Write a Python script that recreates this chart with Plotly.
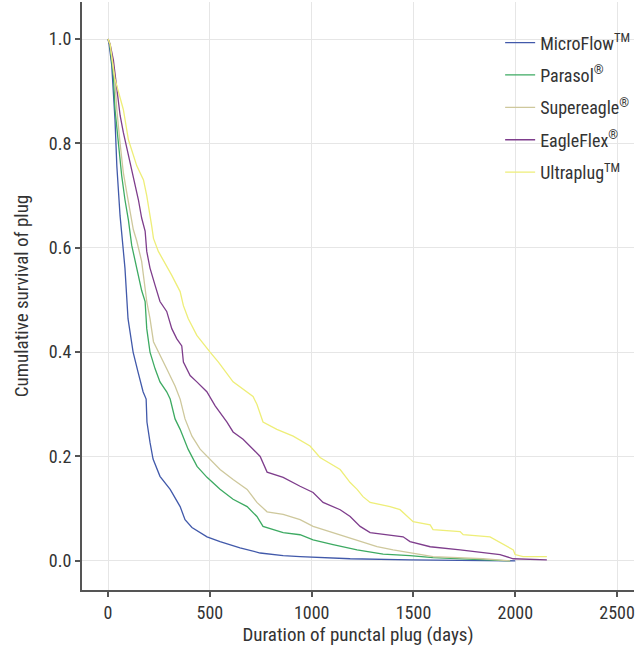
import plotly.graph_objects as go

# Kaplan-Meier curves (days, cumulative survival)
micro_t = [0, 5, 18, 26, 34, 43, 51, 59, 67, 83, 98, 123, 147, 172, 187, 191, 206, 221, 255, 305, 354, 378, 412, 486, 550, 648, 747, 860, 943, 1189, 1483, 1800, 2000]
micro_s = [1.0, 0.99, 0.95, 0.904, 0.846, 0.757, 0.705, 0.661, 0.628, 0.561, 0.464, 0.40, 0.362, 0.324, 0.31, 0.266, 0.227, 0.195, 0.162, 0.137, 0.104, 0.079, 0.064, 0.046, 0.037, 0.025, 0.015, 0.01, 0.008, 0.004, 0.002, 0.001, 0.0]

parasol_t = [0, 8, 26, 34, 51, 67, 83, 100, 116, 141, 165, 182, 190, 206, 231, 255, 288, 305, 329, 354, 393, 437, 486, 550, 614, 683, 731, 761, 860, 943, 1007, 1105, 1223, 1351, 1483, 1596, 1842, 1975]
parasol_s = [1.0, 0.99, 0.93, 0.865, 0.80, 0.738, 0.692, 0.653, 0.605, 0.561, 0.518, 0.497, 0.445, 0.40, 0.368, 0.343, 0.324, 0.31, 0.272, 0.252, 0.214, 0.181, 0.16, 0.137, 0.118, 0.104, 0.085, 0.066, 0.054, 0.05, 0.04, 0.031, 0.021, 0.013, 0.01, 0.006, 0.003, 0.0]

super_t = [0, 10, 34, 43, 59, 75, 92, 108, 124, 141, 165, 190, 206, 223, 255, 288, 329, 354, 378, 412, 452, 501, 550, 614, 683, 731, 781, 860, 943, 1007, 1105, 1223, 1321, 1400, 1483, 1596, 1842, 1975]
super_s = [1.0, 0.99, 0.917, 0.865, 0.80, 0.744, 0.705, 0.667, 0.635, 0.613, 0.574, 0.497, 0.464, 0.42, 0.393, 0.368, 0.335, 0.31, 0.272, 0.239, 0.214, 0.195, 0.175, 0.156, 0.137, 0.112, 0.094, 0.089, 0.079, 0.066, 0.054, 0.04, 0.027, 0.021, 0.015, 0.008, 0.004, 0.0]

eagle_t = [0, 10, 26, 43, 59, 75, 100, 124, 149, 165, 182, 190, 206, 231, 255, 288, 313, 337, 362, 370, 403, 436, 485, 526, 584, 614, 663, 712, 747, 781, 860, 943, 1007, 1056, 1140, 1189, 1238, 1287, 1385, 1449, 1483, 1582, 1729, 1925, 1990, 2155]
eagle_s = [1.0, 0.99, 0.96, 0.904, 0.854, 0.821, 0.776, 0.738, 0.692, 0.657, 0.632, 0.593, 0.561, 0.528, 0.497, 0.478, 0.445, 0.426, 0.412, 0.381, 0.355, 0.343, 0.324, 0.297, 0.266, 0.247, 0.233, 0.214, 0.20, 0.17, 0.16, 0.143, 0.131, 0.112, 0.098, 0.085, 0.066, 0.054, 0.05, 0.046, 0.037, 0.027, 0.021, 0.012, 0.004, 0.002]

ultra_t = [0, 10, 34, 59, 75, 100, 141, 174, 190, 215, 223, 247, 288, 313, 354, 370, 394, 436, 501, 542, 614, 712, 731, 761, 829, 909, 992, 1041, 1140, 1189, 1223, 1252, 1287, 1385, 1434, 1468, 1498, 1582, 1596, 1729, 1744, 1876, 1925, 1990, 1999, 2038, 2155]
ultra_s = [1.0, 0.99, 0.923, 0.884, 0.865, 0.807, 0.757, 0.73, 0.70, 0.64, 0.618, 0.593, 0.566, 0.547, 0.516, 0.489, 0.464, 0.432, 0.40, 0.381, 0.343, 0.315, 0.30, 0.266, 0.252, 0.239, 0.22, 0.198, 0.175, 0.15, 0.137, 0.123, 0.112, 0.104, 0.098, 0.085, 0.075, 0.069, 0.06, 0.056, 0.05, 0.046, 0.035, 0.021, 0.012, 0.008, 0.008]

names = ["MicroFlow<sup>TM</sup>", "Parasol<sup>®</sup>", "Supereagle<sup>®</sup>",
         "EagleFlex<sup>®</sup>", "Ultraplug<sup>TM</sup>"]
colors = ["#4159AA", "#3DAA62", "#CEC89C", "#7E3D8C", "#EEEE78"]
series = [(micro_t, micro_s), (parasol_t, parasol_s), (super_t, super_s),
          (eagle_t, eagle_s), (ultra_t, ultra_s)]

x_ticks = [0, 500, 1000, 1500, 2000, 2500]
y_ticks = [0.0, 0.2, 0.4, 0.6, 0.8, 1.0]

FONT = "Roboto Condensed, Liberation Sans Narrow, Roboto, sans-serif"

fig = go.Figure()
for i, (name, col, (t, s)) in enumerate(zip(names, colors, series)):
    assert len(t) == len(s), name
    fig.add_trace(go.Scatter(x=t, y=s, mode="lines", name=name,
                             legendgroup=str(i),
                             line=dict(color=col, width=1.3, shape="linear")))

fig.update_layout(
    width=639, height=649,
    margin=dict(l=82, r=5, t=2, b=59),
    paper_bgcolor="white", plot_bgcolor="white",
    font=dict(family=FONT, size=18, color="#333333"),
    showlegend=True,
    legend=dict(x=0.7575, y=0.962, xanchor="left", yanchor="top",
                bgcolor="rgba(0,0,0,0)", font=dict(size=18, color="#333333"),
                tracegroupgap=6, itemwidth=30),
    xaxis=dict(range=[-128, 2583], tickvals=x_ticks, ticktext=[str(v) for v in x_ticks],
               automargin=False,
               showgrid=True, gridcolor="#E6E6E6", gridwidth=1, zeroline=False,
               showline=True, linecolor="#555555", linewidth=2,
               ticks="outside", ticklen=5, tickcolor="#555555", tickwidth=1.5,
               tickfont=dict(size=18),
               title=dict(text="Duration of punctal plug (days)", font=dict(size=19), standoff=6)),
    yaxis=dict(range=[-0.0559, 1.071], tickvals=y_ticks, ticktext=[f"{v:.1f}" for v in y_ticks],
               automargin=False,
               showgrid=True, gridcolor="#E6E6E6", gridwidth=1, zeroline=False,
               showline=True, linecolor="#555555", linewidth=2,
               ticks="outside", ticklen=5, tickcolor="#555555", tickwidth=1.5,
               tickfont=dict(size=18),
               title=dict(text="Cumulative survival of plug", font=dict(size=19), standoff=15)),
)

fig.write_html("out.html", config={"displayModeBar": False},
               post_script="document.body.style.margin='0';")
